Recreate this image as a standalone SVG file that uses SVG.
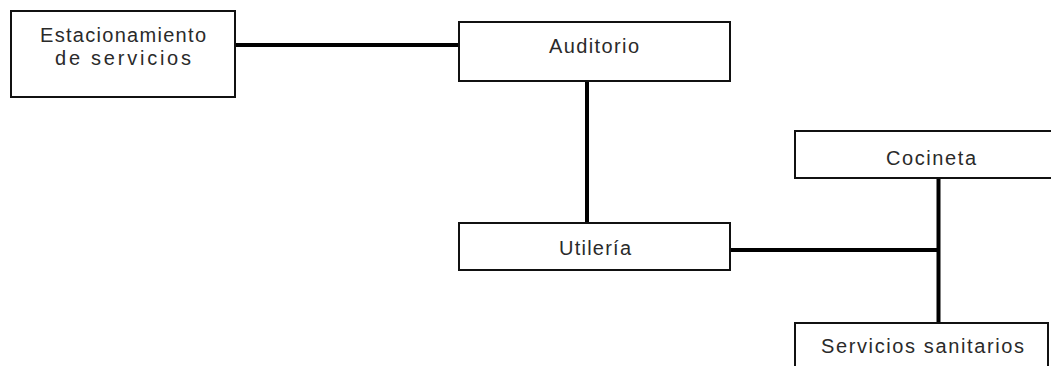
<svg xmlns="http://www.w3.org/2000/svg" width="1051" height="366" viewBox="0 0 1051 366">
<style>
.box{fill:#ffffff;stroke:#111111;stroke-width:2}
.lbl{font-family:"Liberation Sans",Arial,sans-serif;font-size:20px;fill:#2a2a2a;text-anchor:middle}
.conn{stroke:#000000;stroke-width:4;fill:none}
</style>
<rect width="1051" height="366" fill="#ffffff"/>
<g id="connectors">
<line class="conn" x1="235" y1="45" x2="459" y2="45"/>
<line class="conn" x1="587" y1="82" x2="587" y2="223"/>
<line class="conn" x1="730" y1="250" x2="938.5" y2="250"/>
<line class="conn" x1="938.5" y1="178" x2="938.5" y2="323"/>
</g>
<g id="estacionamiento">
<rect class="box" x="11" y="11" width="224" height="86"/>
<text class="lbl" x="123" y="41.5" textLength="166" lengthAdjust="spacing">Estacionamiento</text>
<text class="lbl" x="123" y="64.5" textLength="136" lengthAdjust="spacing">de servicios</text>
</g>
<g id="auditorio">
<rect class="box" x="459" y="22" width="271" height="59"/>
<text class="lbl" x="594" y="52.5" textLength="90" lengthAdjust="spacing">Auditorio</text>
</g>
<g id="utileria">
<rect class="box" x="459" y="223" width="271" height="47"/>
<text class="lbl" x="595" y="255" textLength="72" lengthAdjust="spacing">Utilería</text>
</g>
<g id="cocineta">
<rect class="box" x="795" y="131" width="280" height="47"/>
<text class="lbl" x="931" y="165" textLength="90" lengthAdjust="spacing">Cocineta</text>
</g>
<g id="servicios-sanitarios">
<rect class="box" x="795" y="323" width="253" height="60"/>
<text class="lbl" x="922.5" y="353" textLength="203" lengthAdjust="spacing">Servicios sanitarios</text>
</g>
</svg>
